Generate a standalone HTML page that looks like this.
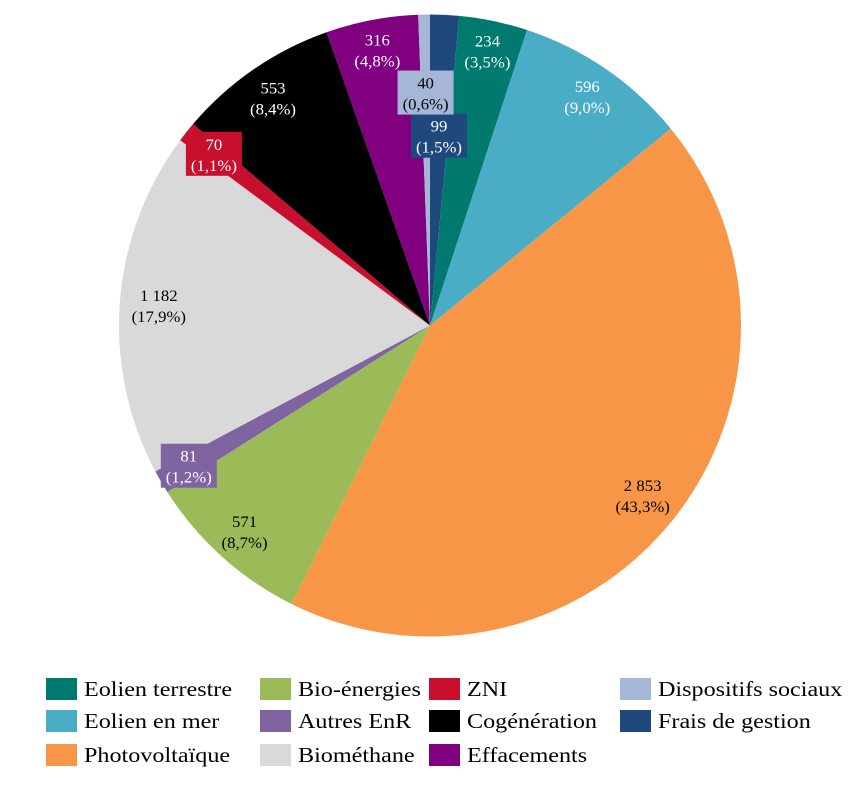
<!DOCTYPE html>
<html><head><meta charset="utf-8">
<style>
body{margin:0;background:#fff;width:867px;height:784px;overflow:hidden;font-family:"Liberation Serif",serif}
svg text{font-family:"Liberation Serif",serif}
</style></head><body>
<svg id="chart" width="867" height="784" xmlns="http://www.w3.org/2000/svg"></svg>
<script>
const categories=["Frais de gestion","Eolien terrestre","Eolien en mer","Photovoltaïque","Bio-énergies","Autres EnR","Biométhane","ZNI","Cogénération","Effacements","Dispositifs sociaux"];
const values=[99,234,596,2853,571,81,1182,70,553,316,40];
const valueLabels=["99","234","596","2 853","571","81","1 182","70","553","316","40"];
const pctLabels=["(1,5%)","(3,5%)","(9,0%)","(43,3%)","(8,7%)","(1,2%)","(17,9%)","(1,1%)","(8,4%)","(4,8%)","(0,6%)"];
const colors=["#1F497D","#007A6E","#4BACC6","#F79646","#9BBB59","#8064A2","#D9D9D9","#C8102E","#000000","#800080","#A5B6D6"];
const textColors=["#fff","#fff","#fff","#000","#000","#fff","#000","#fff","#fff","#fff","#000"];
const boxed=[true,false,false,false,false,true,false,true,false,false,true];
const labelR=[190,281,278,272,277,279,272,276,277,281,233];
const svg=document.getElementById('chart');
const NS="http://www.w3.org/2000/svg";
const cx=430,cy=325.5,R=311;
const total=values.reduce((a,b)=>a+b,0);
function pt(a,r){return [cx+r*Math.sin(a),cy-r*Math.cos(a)];}
let cum=0;
const labelsG=document.createElementNS(NS,'g');
values.forEach((v,i)=>{
  const a0=cum/total*2*Math.PI; cum+=v; const a1=cum/total*2*Math.PI;
  const p0=pt(a0,R),p1=pt(a1,R);
  const large=(a1-a0)>Math.PI?1:0;
  const path=document.createElementNS(NS,'path');
  path.setAttribute('d',`M${cx},${cy}L${p0[0]},${p0[1]}A${R},${R} 0 ${large} 1 ${p1[0]},${p1[1]}Z`);
  path.setAttribute('fill',colors[i]);
  
  
  svg.appendChild(path);
  const am=(a0+a1)/2; const lp=pt(am,labelR[i]);
  const g=document.createElementNS(NS,'g');
  
  
  if(boxed[i]){
    const r=document.createElementNS(NS,'rect');
    r.setAttribute('x',lp[0]-28);r.setAttribute('y',lp[1]-22);
    r.setAttribute('width',56);r.setAttribute('height',44);
    r.setAttribute('fill',colors[i]);
    g.appendChild(r);
  }
  [[valueLabels[i],-4],[pctLabels[i],17]].forEach(([t,dy])=>{
    const tx=document.createElementNS(NS,'text');
    tx.setAttribute('transform',`translate(${lp[0]},${lp[1]+dy}) scale(1.08,1)`);
    tx.setAttribute('text-anchor','middle');tx.setAttribute('font-size','15.5');
    tx.setAttribute('fill',textColors[i]);tx.textContent=t;
    g.appendChild(tx);
  });
  labelsG.appendChild(g);
});
svg.appendChild(labelsG);
const legendOrder=[1,4,7,10,2,5,8,0,3,6,9];
const colX=[46,260,429,620];
const rowY=[689,721,755];
legendOrder.forEach((ci,k)=>{
  const col=k%4,row=Math.floor(k/4);
  const g=document.createElementNS(NS,'g');
  
  
  const r=document.createElementNS(NS,'rect');
  r.setAttribute('x',colX[col]);r.setAttribute('y',rowY[row]-11);
  r.setAttribute('width',31);r.setAttribute('height',22);r.setAttribute('fill',colors[ci]);
  g.appendChild(r);
  const t=document.createElementNS(NS,'text');
  t.setAttribute('transform',`translate(${colX[col]+38},${rowY[row]+7}) scale(1.15,1)`);
  t.setAttribute('font-size','21');t.setAttribute('fill','#000');
  t.textContent=categories[ci];
  g.appendChild(t);
  svg.appendChild(g);
});
</script>
</body></html>
